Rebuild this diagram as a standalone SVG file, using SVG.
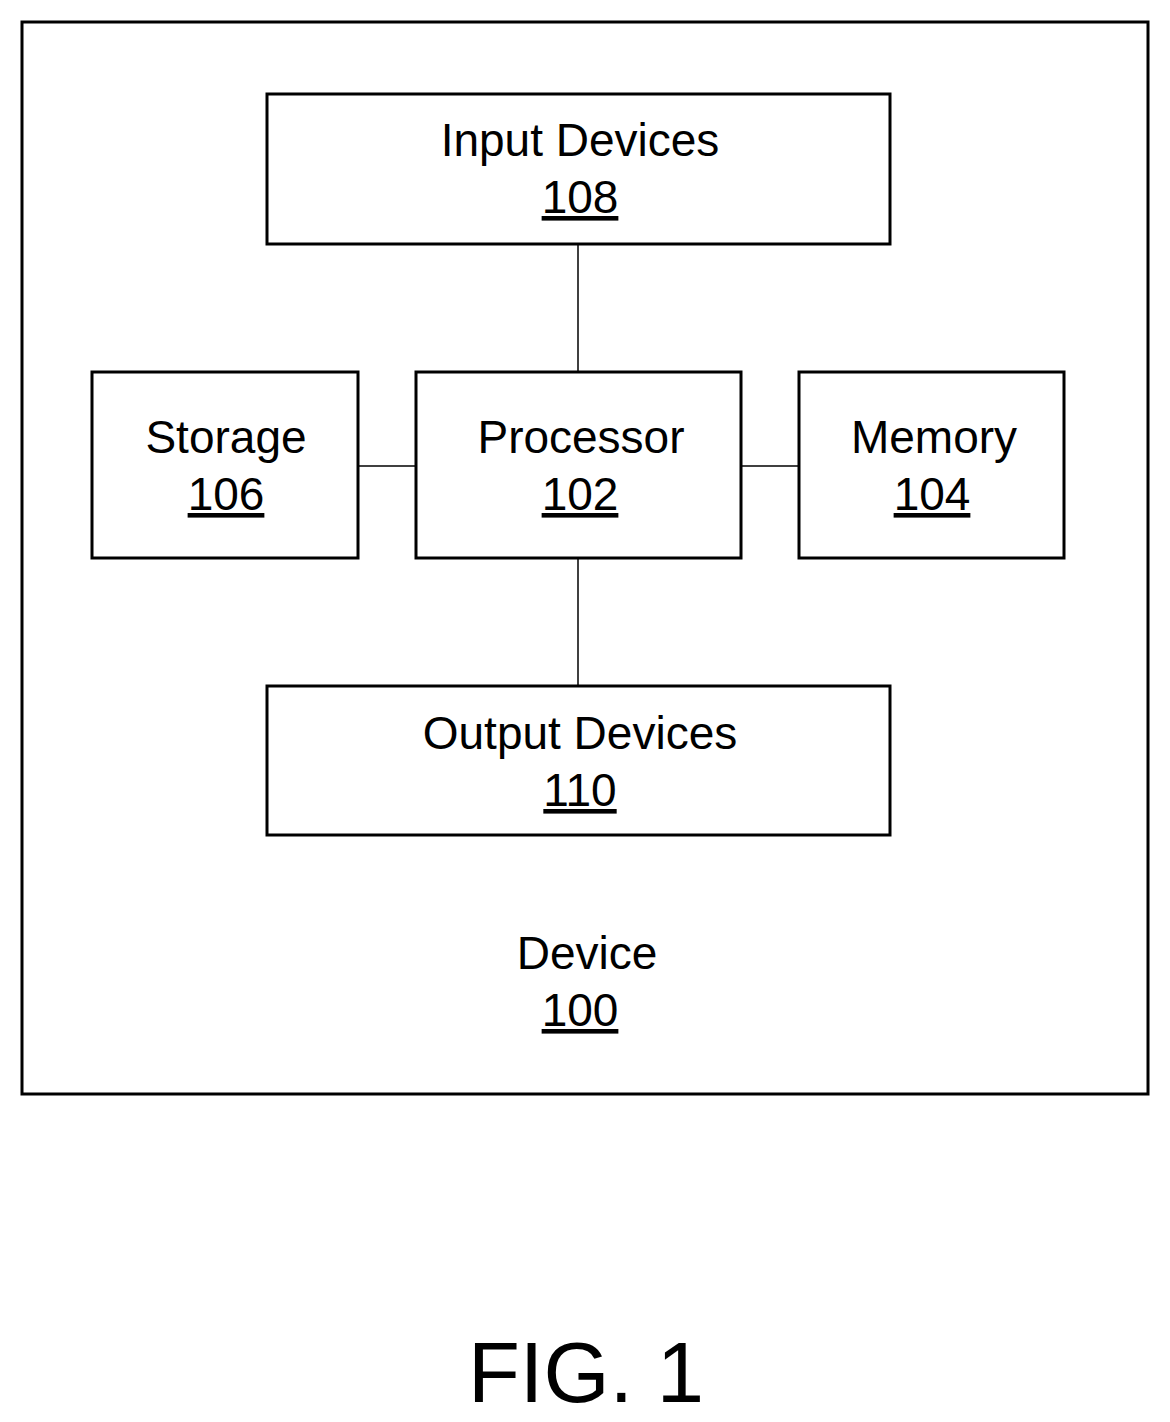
<svg xmlns="http://www.w3.org/2000/svg" width="1170" height="1422" viewBox="0 0 1170 1422">
<style>
.b{fill:#fff;stroke:#000;stroke-width:3}
.t{font-family:"Liberation Sans",Arial,sans-serif;font-size:46px;text-anchor:middle;fill:#000}
.u{text-decoration:underline}
.c{stroke:#000;stroke-width:1.5;fill:none}
</style>
<rect width="1170" height="1422" fill="#fff"/>
<g id="device"><rect class="b" x="22" y="22" width="1126" height="1072"/>
<text class="t" x="587" y="969">Device</text><text class="t u" x="580" y="1026">100</text></g>
<g id="connectors">
<line class="c" x1="578" y1="244" x2="578" y2="372"/>
<line class="c" x1="578" y1="558" x2="578" y2="686"/>
<line class="c" x1="358" y1="466" x2="416" y2="466"/>
<line class="c" x1="741" y1="466" x2="799" y2="466"/>
</g>
<g id="input"><rect class="b" x="267" y="94" width="623" height="150"/>
<text class="t" x="580" y="156">Input Devices</text><text class="t u" x="580" y="213">108</text></g>
<g id="storage"><rect class="b" x="92" y="372" width="266" height="186"/>
<text class="t" x="226" y="453">Storage</text><text class="t u" x="226" y="510">106</text></g>
<g id="processor"><rect class="b" x="416" y="372" width="325" height="186"/>
<text class="t" x="581" y="453">Processor</text><text class="t u" x="580" y="510">102</text></g>
<g id="memory"><rect class="b" x="799" y="372" width="265" height="186"/>
<text class="t" x="934" y="453">Memory</text><text class="t u" x="932" y="510">104</text></g>
<g id="output"><rect class="b" x="267" y="686" width="623" height="149"/>
<text class="t" x="580" y="749">Output Devices</text><text class="t u" x="580" y="806">110</text></g>
<text class="t" x="586" y="1402" style="font-size:85px">FIG. 1</text>
</svg>
